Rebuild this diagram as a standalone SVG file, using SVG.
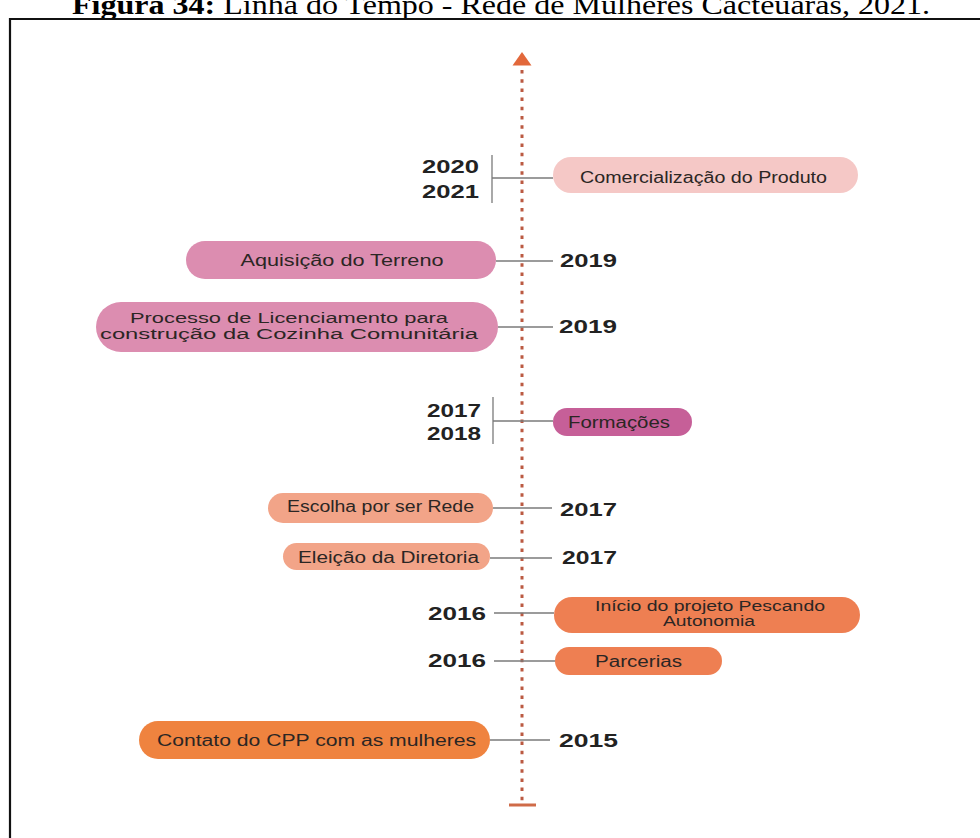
<svg xmlns="http://www.w3.org/2000/svg" width="980" height="838" viewBox="0 0 980 838">
<style>
.lbl{font-family:"Liberation Sans",Arial,sans-serif;font-size:16px;fill:#2b2624;text-anchor:middle}
.lbl2{font-family:"Liberation Sans",Arial,sans-serif;font-size:14px;fill:#2b2624;text-anchor:middle}
.yr{font-family:"Liberation Sans",Arial,sans-serif;font-size:19px;font-weight:bold;fill:#222}
.con{stroke:#7a7a7a;stroke-width:1.3;fill:none}
.title{font-family:"Liberation Serif","Times New Roman",serif;font-size:28px;fill:#000}
</style>
<rect x="0" y="0" width="980" height="838" fill="#ffffff"/>
<text class="title" x="72" y="14" textLength="858" lengthAdjust="spacingAndGlyphs"><tspan font-weight="bold">Figura 34:</tspan> Linha do Tempo - Rede de Mulheres Cacteuaras, 2021.</text>
<path d="M10,838 V19 H980" fill="none" stroke="#111" stroke-width="2.2"/>

<g id="timeline">
<line x1="522" y1="70" x2="522" y2="801" stroke="#bb5a42" stroke-width="3" stroke-dasharray="3.5 5.7"/>
<polygon points="522,52 512.5,65.5 531.5,65.5" fill="#e2683b"/>
<line x1="509" y1="805" x2="536" y2="805" stroke="#cf6b48" stroke-width="3"/>
</g>

<g id="connectors">
<line class="con" x1="492" y1="155" x2="492" y2="203"/>
<line class="con" x1="492" y1="178" x2="553" y2="178"/>
<line class="con" x1="496" y1="261" x2="553" y2="261"/>
<line class="con" x1="498" y1="327" x2="553" y2="327"/>
<line class="con" x1="493" y1="397" x2="493" y2="444"/>
<line class="con" x1="493" y1="421" x2="553" y2="421"/>
<line class="con" x1="493" y1="508" x2="552" y2="508"/>
<line class="con" x1="490" y1="558" x2="552" y2="558"/>
<line class="con" x1="494" y1="613" x2="554" y2="613"/>
<line class="con" x1="494" y1="661" x2="555" y2="661"/>
<line class="con" x1="490" y1="740" x2="550" y2="740"/>
</g>

<g id="n-comercializacao">
<rect x="553" y="157" width="305" height="36" rx="18" fill="#f5c8c6"/>
<text class="lbl" x="703.5" y="183" textLength="247" lengthAdjust="spacingAndGlyphs">Comercialização do Produto</text>
<text class="yr" x="422" y="173" textLength="57" lengthAdjust="spacingAndGlyphs">2020</text>
<text class="yr" x="422" y="198" textLength="57" lengthAdjust="spacingAndGlyphs">2021</text>
</g>

<g id="n-aquisicao">
<rect x="186" y="241" width="310" height="38" rx="19" fill="#dc8db0"/>
<text class="lbl" x="342" y="266" textLength="203" lengthAdjust="spacingAndGlyphs">Aquisição do Terreno</text>
<text class="yr" x="560" y="267" textLength="57" lengthAdjust="spacingAndGlyphs">2019</text>
</g>

<g id="n-processo">
<rect x="96" y="302" width="402" height="50" rx="25" fill="#dc8db0"/>
<text class="lbl2" x="289" y="323" textLength="318" lengthAdjust="spacingAndGlyphs">Processo de Licenciamento para</text>
<text class="lbl2" x="289" y="339" textLength="378" lengthAdjust="spacingAndGlyphs">construção da Cozinha Comunitária</text>
<text class="yr" x="559" y="333" textLength="58" lengthAdjust="spacingAndGlyphs">2019</text>
</g>

<g id="n-formacoes">
<rect x="553" y="408" width="139" height="28" rx="14" fill="#c65f98"/>
<text class="lbl" x="619" y="428" textLength="102" lengthAdjust="spacingAndGlyphs">Formações</text>
<text class="yr" x="427" y="417" textLength="54" lengthAdjust="spacingAndGlyphs">2017</text>
<text class="yr" x="427" y="440" textLength="54" lengthAdjust="spacingAndGlyphs">2018</text>
</g>

<g id="n-escolha">
<rect x="268" y="493" width="225" height="30" rx="15" fill="#f2a488"/>
<text class="lbl" x="380.5" y="512" textLength="187" lengthAdjust="spacingAndGlyphs">Escolha por ser Rede</text>
<text class="yr" x="560" y="516" textLength="57" lengthAdjust="spacingAndGlyphs">2017</text>
</g>

<g id="n-eleicao">
<rect x="283" y="543" width="207" height="27" rx="13.5" fill="#f2a488"/>
<text class="lbl" x="388.5" y="563" textLength="181" lengthAdjust="spacingAndGlyphs">Eleição da Diretoria</text>
<text class="yr" x="562" y="564" textLength="55" lengthAdjust="spacingAndGlyphs">2017</text>
</g>

<g id="n-inicio">
<rect x="554" y="597" width="306" height="36" rx="18" fill="#ee7f52"/>
<text class="lbl2" x="710" y="611" textLength="230" lengthAdjust="spacingAndGlyphs">Início do projeto Pescando</text>
<text class="lbl2" x="709" y="626" textLength="92" lengthAdjust="spacingAndGlyphs">Autonomia</text>
<text class="yr" x="428" y="620" textLength="58" lengthAdjust="spacingAndGlyphs">2016</text>
</g>

<g id="n-parcerias">
<rect x="555" y="647" width="167" height="28" rx="14" fill="#ee7f52"/>
<text class="lbl" x="638.5" y="667" textLength="87" lengthAdjust="spacingAndGlyphs">Parcerias</text>
<text class="yr" x="428" y="667" textLength="58" lengthAdjust="spacingAndGlyphs">2016</text>
</g>

<g id="n-contato">
<rect x="139" y="721" width="351" height="38" rx="19" fill="#ef833f"/>
<text class="lbl" x="316.5" y="746" textLength="319" lengthAdjust="spacingAndGlyphs">Contato do CPP com as mulheres</text>
<text class="yr" x="559" y="747" textLength="59" lengthAdjust="spacingAndGlyphs">2015</text>
</g>
</svg>
